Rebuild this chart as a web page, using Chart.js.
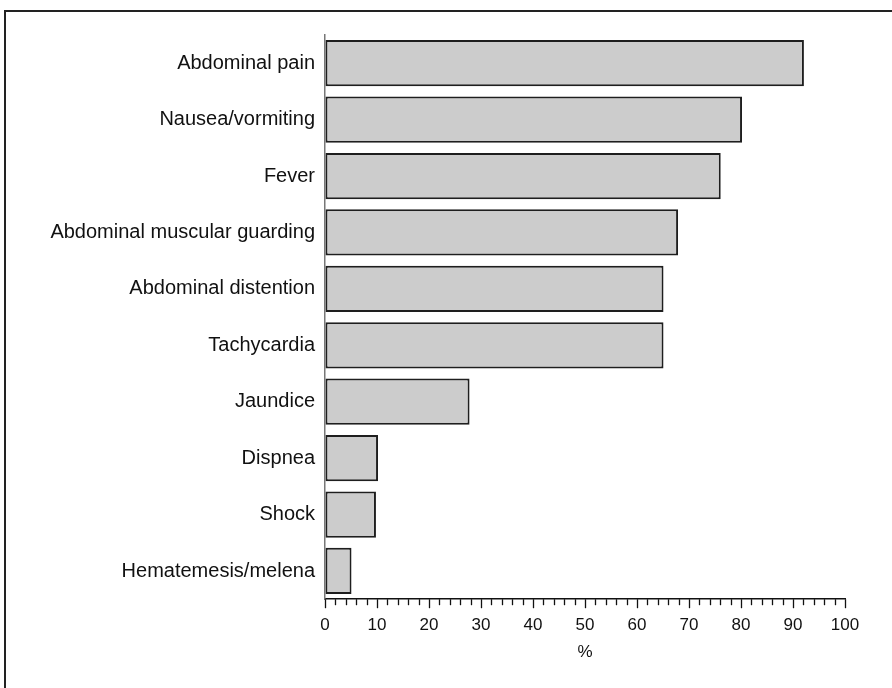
<!DOCTYPE html>
<html>
<head>
<meta charset="utf-8">
<script src="https://cdn.jsdelivr.net/npm/chart.js@4"></script>
<style>
  html, body { margin: 0; padding: 0; background: #fff; }
  #wrap { position: relative; width: 892px; height: 688px; }
</style>
</head>
<body>
<div id="wrap"><canvas id="symptomChart" width="892" height="688"></canvas></div>
<script>
// Symptoms and their frequency (%)
const symptoms = [
  "Abdominal pain",
  "Nausea/vormiting",
  "Fever",
  "Abdominal muscular guarding",
  "Abdominal distention",
  "Tachycardia",
  "Jaundice",
  "Dispnea",
  "Shock",
  "Hematemesis/melena"
];
const percentValues = [92.1, 80.2, 76.1, 67.9, 65.1, 65.1, 27.8, 10.2, 9.8, 5.1];

// x axis ticks
const xMin = 0;
const xMax = 100;
const minorStep = 2;
const majorStep = 10;

const fontName = "'Liberation Sans', Arial, sans-serif";

// frame round the figure + minor/major ticks on the x axis
const framePlugin = {
  id: 'framePlugin',
  afterDraw(chart) {
    const ctx = chart.ctx;
    const xs = chart.scales.x;
    const area = chart.chartArea;
    ctx.save();
    // outer frame (left + top visible, rest runs off the picture)
    ctx.strokeStyle = '#222';
    ctx.lineWidth = 2;
    ctx.strokeRect(5, 11, 900, 700);

    // ticks
    ctx.strokeStyle = '#111';
    ctx.lineWidth = 1.3;
    for (let v = xMin; v <= xMax; v += minorStep) {
      const px = Math.round(xs.getPixelForValue(v)) + 0.5;
      const len = v % majorStep === 0 ? 9 : 6;
      ctx.beginPath();
      ctx.moveTo(px, area.bottom);
      ctx.lineTo(px, area.bottom + len);
      ctx.stroke();
    }
    ctx.restore();
  }
};

const ctx = document.getElementById('symptomChart').getContext('2d');
new Chart(ctx, {
  type: 'bar',
  data: {
    labels: symptoms,
    datasets: [{
      data: percentValues,
      backgroundColor: '#cccccc',
      borderColor: '#1e1e1e',
      borderWidth: 2,
      borderSkipped: false,
      barPercentage: 0.82,
      categoryPercentage: 1.0
    }]
  },
  options: {
    indexAxis: 'y',
    responsive: false,
    animation: false,
    layout: {
      padding: { top: 35, right: 47, bottom: 25, left: 0 }
    },
    plugins: {
      legend: { display: false },
      tooltip: { enabled: false }
    },
    scales: {
      x: {
        min: xMin,
        max: xMax,
        grid: {
          drawOnChartArea: false,
          drawTicks: true,
          tickLength: 9,
          tickColor: 'rgba(0,0,0,0)'
        },
        border: { display: true, color: '#111', width: 1.5 },
        ticks: {
          stepSize: minorStep,
          autoSkip: false,
          maxRotation: 0,
          padding: 7,
          color: '#111',
          font: { family: fontName, size: 17 },
          callback: (v) => (v % majorStep === 0 ? v : '')
        },
        title: {
          display: true,
          text: '%',
          color: '#111',
          font: { family: fontName, size: 17 },
          padding: { top: 0, bottom: 0 }
        }
      },
      y: {
        grid: { display: false, drawTicks: false },
        border: { display: true, color: '#777', width: 1.5 },
        afterFit: (scale) => { scale.width = 325; },
        ticks: {
          padding: 10,
          color: '#111',
          font: { family: fontName, size: 20 }
        }
      }
    }
  },
  plugins: [framePlugin]
});
</script>
</body>
</html>
